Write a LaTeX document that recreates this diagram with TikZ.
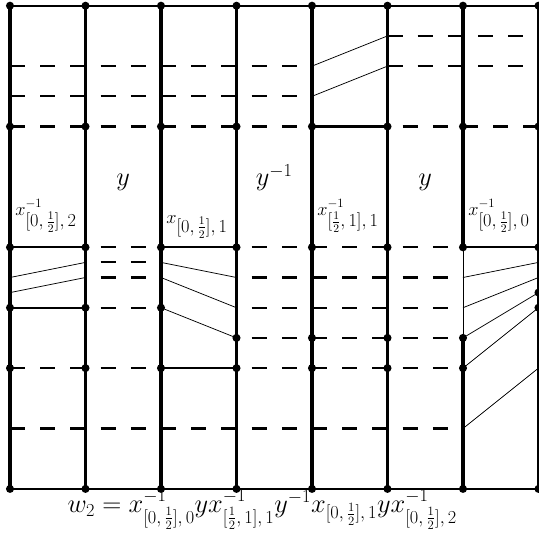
\documentclass[tikz,border=0pt]{standalone}
\usepackage{amsmath}
\usetikzlibrary{positioning}
\definecolor{pen}{HTML}{000000}
\tikzset{
  wall/.style={draw=pen,line width=3.5pt},
  thinwall/.style={draw=pen,line width=0.8pt},
  rung/.style={draw=pen,line width=2pt},
  gap/.style={draw=pen,line width=2pt,dash pattern=on 0.5cm off 0.5cm},
  halfgap/.style={gap,dash phase=0.5cm},
  slant/.style={draw=pen,line width=0.7pt},
  gen/.style={font=\fontsize{25}{30}\selectfont,text=pen,inner sep=0pt},
  tag/.style={font=\fontsize{16}{19}\selectfont,text=pen,inner sep=0pt,anchor=base west},
}
\newcommand{\knot}[1]{\fill[pen] (#1) circle (3.8pt);}
% script parts kept at a fixed size: \lo{size}{math}
\newcommand{\lo}[2]{\mbox{\fontsize{#1}{#1}\selectfont$#2$}}

\begin{document}
\begin{tikzpicture}
  \useasboundingbox (-0.331,-17.646) rectangle (17.517,0.189);

  % ---------------------------------------------------------------- dashed levels
  \foreach \r in {2,3} \draw[gap] (0,-\r) -- (10,-\r);
  \foreach \r in {1,2} \draw[gap] (12.5,-\r) -- (17.5,-\r);
  \foreach \r in {4,8} \draw[gap] (0,-\r) -- (17.5,-\r);
  \foreach \r in {8.5,9,10} \draw[halfgap] (2.5,-\r) -- (5,-\r);
  \foreach \r in {9,10,11} \draw[halfgap] (7.5,-\r) -- (15,-\r);
  \foreach \r in {12,14} \draw[gap] (0,-\r) -- (15,-\r);

  % ---------------------------------------------------------------- solid levels
  \draw[rung] (0,0) -- (17.5,0);
  \draw[rung] (0,-16) -- (17.5,-16);
  \draw[rung] (10,-4) -- (12.5,-4);
  \draw[rung] (0,-8) -- (2.5,-8);
  \draw[rung] (5,-8) -- (7.5,-8);
  \draw[rung] (15,-8) -- (17.5,-8);
  \draw[rung] (0,-10) -- (2.5,-10);
  \draw[rung] (5,-12) -- (7.5,-12);

  % ---------------------------------------------------------------- shifted levels
  \draw[slant] (10,-2) -- (12.5,-1);
  \draw[slant] (10,-3) -- (12.5,-2);
  \draw[slant] (0,-9) -- (2.5,-8.5);
  \draw[slant] (0,-9.5) -- (2.5,-9);
  \draw[slant] (5,-8.5) -- (7.5,-9);
  \draw[slant] (5,-9) -- (7.5,-10);
  \draw[slant] (5,-10) -- (7.5,-11);
  \draw[slant] (15,-9) -- (17.5,-8.5);
  \draw[slant] (15,-10) -- (17.5,-9);
  \draw[slant] (15,-11) -- (17.5,-9.5);
  \draw[slant] (15,-12) -- (17.5,-10);
  \draw[slant] (15,-14) -- (17.5,-12);

  % ---------------------------------------------------------------- walls
  \foreach \i in {0,...,5,7} \draw[wall] (2.5*\i,0) -- (2.5*\i,-16);
  \draw[wall] (15,0) -- (15,-8);
  \draw[thinwall] (15,-8) -- (15,-11);
  \draw[wall] (15,-11) -- (15,-16);

  % ---------------------------------------------------------------- vertices
  \foreach \i in {0,...,7} {
    \knot{2.5*\i,0} \knot{2.5*\i,-4} \knot{2.5*\i,-8} \knot{2.5*\i,-16}
  }
  \foreach \i in {0,1,2} {\knot{2.5*\i,-10}}
  \foreach \i in {3,...,6} {\knot{2.5*\i,-11}}
  \foreach \i in {0,...,6} {\knot{2.5*\i,-12}}
  \knot{17.5,-9.5} \knot{17.5,-10}

  % ---------------------------------------------------------------- labels
  \node[gen,anchor=base] (ya) at (3.75,-5.96) {$y$};
  \node[gen,anchor=base] (yb) at (8.75,-5.96) {$y^{-1}$};
  \node[gen,anchor=base] (yc) at (13.75,-5.96) {$y$};
  \node[tag] (xa) at (0.17,-6.94) {$x^{\lo{13}{-1}}_{\lo{16}{[0,\frac{1}{2}],2}}$};
  \node[tag] (xb) at (5.17,-7.22) {$x_{\lo{16}{[0,\frac{1}{2}],1}}$};
  \node[tag] (xc) at (10.17,-6.94) {$x^{\lo{13}{-1}}_{\lo{16}{[\frac{1}{2},1],1}}$};
  \node[tag] (xd) at (15.17,-6.94) {$x^{\lo{13}{-1}}_{\lo{16}{[0,\frac{1}{2}],0}}$};
  \node[gen,font=\fontsize{26}{31}\selectfont,anchor=base] (word) at (8.35,-16.78)
       {$w_{\lo{18}{2}}=x^{\lo{17}{-1}}_{\lo{18}{[0,\frac{1}{2}],0}}y
         x^{\lo{17}{-1}}_{\lo{18}{[\frac{1}{2},1],1}}y^{\lo{17}{-1}}
         x_{\lo{18}{[0,\frac{1}{2}],1}}yx^{\lo{17}{-1}}_{\lo{18}{[0,\frac{1}{2}],2}}$};
\end{tikzpicture}
\end{document}
